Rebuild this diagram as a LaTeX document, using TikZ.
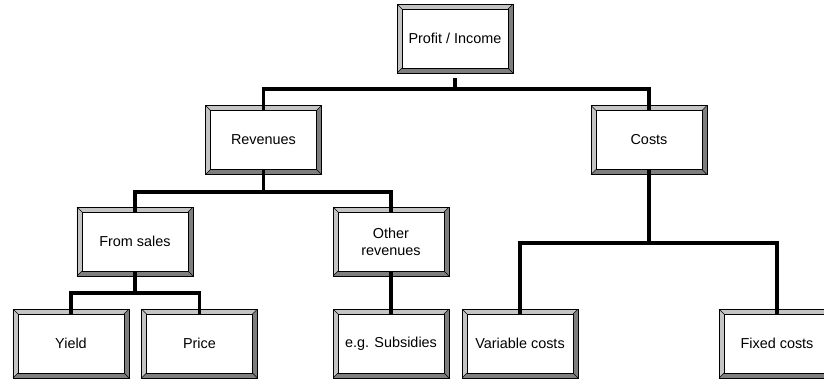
\documentclass[tikz,border=0pt]{standalone}
\usepackage{fontspec}
\setmainfont{Liberation Sans}
\usepackage{tikz}
\usepackage{xcolor}
\usetikzlibrary{positioning}

\definecolor{bevlight}{HTML}{C4C4C4}
\definecolor{bevdark}{HTML}{7E7E7E}

\begin{document}
\begin{tikzpicture}[x=0.03cm, y=-0.03cm,
    bevelbox/.style={draw=black, line width=0.5pt, fill=bevdark,
        minimum width=3.48cm, minimum height=2.07cm, inner sep=2pt,
        align=center, font=\fontsize{12.3}{14.5}\selectfont,
        path picture={
            \fill[bevlight] (path picture bounding box.south west)
                -- (path picture bounding box.north west)
                -- (path picture bounding box.north east)
                -- ([shift={(-0.15cm,-0.15cm)}]path picture bounding box.north east)
                -- ([shift={(0.15cm,-0.15cm)}]path picture bounding box.north west)
                -- ([shift={(0.15cm,0.15cm)}]path picture bounding box.south west)
                -- cycle;
            \filldraw[fill=white, draw=black, line width=0.5pt]
                ([shift={(0.15cm,0.15cm)}]path picture bounding box.south west)
                rectangle ([shift={(-0.15cm,-0.15cm)}]path picture bounding box.north east);
            \draw[line width=0.4pt] (path picture bounding box.south west)
                -- ([shift={(0.15cm,0.15cm)}]path picture bounding box.south west);
            \draw[line width=0.4pt] (path picture bounding box.north west)
                -- ([shift={(0.15cm,-0.15cm)}]path picture bounding box.north west);
            \draw[line width=0.4pt] (path picture bounding box.north east)
                -- ([shift={(-0.15cm,-0.15cm)}]path picture bounding box.north east);
            \draw[line width=0.4pt] (path picture bounding box.south east)
                -- ([shift={(-0.15cm,0.15cm)}]path picture bounding box.south east);
        }},
    conn/.style={line width=2.9pt, line cap=butt}]

    \useasboundingbox (0,0) rectangle (824,378);

    % Boxes
    \node[bevelbox] (profit) at (455,38.5) {Profit / Income};
    \node[bevelbox] (revenues) at (263.5,140) {Revenues};
    \node[bevelbox] (costs) at (649,140) {Costs};
    \node[bevelbox] (sales) at (135,241.5) {From sales};
    \node[bevelbox] (other) at (391,241.5) {Other\\revenues};
    \node[bevelbox] (yield) at (71,343.5) {Yield};
    \node[bevelbox] (price) at (199.5,343.5) {Price};
    \node[bevelbox] (subsidies) at (391,343.5) {e.g. Subsidies};
    \node[bevelbox] (variable) at (520,343.5) {Variable costs};
    \node[bevelbox] (fixed) at (777,343.5) {Fixed costs};

    % Bus points
    \coordinate (top) at (455,89);
    \coordinate (rev) at (263.5,192);
    \coordinate (sal) at (135,293);
    \coordinate (cst) at (649,243);

    % Connectors
    \draw[conn] ([yshift=-0.15cm]profit.south) -- (top);
    \draw[conn] ([yshift=-0.15cm]revenues.north) |- (top) -| ([yshift=-0.15cm]costs.north);
    \draw[conn] ([yshift=0.15cm]revenues.south) -- (rev);
    \draw[conn] ([yshift=-0.15cm]sales.north) |- (rev) -| ([yshift=-0.15cm]other.north);
    \draw[conn] ([yshift=0.15cm]sales.south) -- (sal);
    \draw[conn] ([yshift=-0.15cm]yield.north) |- (sal) -| ([yshift=-0.15cm]price.north);
    \draw[conn] ([yshift=0.15cm]other.south) -- ([yshift=-0.15cm]subsidies.north);
    \draw[conn] ([yshift=0.15cm]costs.south) -- (cst);
    \draw[conn] ([yshift=-0.15cm]variable.north) |- (cst) -| ([yshift=-0.15cm]fixed.north);
\end{tikzpicture}
\end{document}
